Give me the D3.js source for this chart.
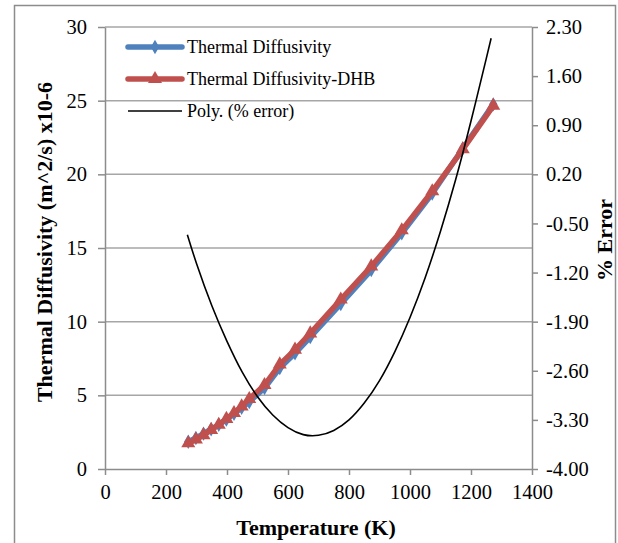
<!DOCTYPE html>
<html>
<head>
<meta charset="utf-8">
<script src="https://cdn.jsdelivr.net/npm/d3@7"></script>
<style>
  body { margin: 0; background: #fff; }
  svg { display: block; font-family: "Liberation Serif", "Times New Roman", serif; }
</style>
</head>
<body>
<div id="chart"></div>
<script>
// Temperatures (K) for both diffusivity series
const temps = [273, 298, 323, 348, 373, 398, 423, 448, 473, 523, 573, 623, 673, 773, 873, 973, 1073, 1173, 1273];
// Thermal diffusivity (m^2/s x10-6), measured
const diffusivity = [1.85, 2.1, 2.4, 2.7, 3.0, 3.35, 3.75, 4.15, 4.55, 5.5, 6.85, 7.85, 8.95, 11.2, 13.5, 16.0, 18.7, 21.75, 24.75];
// Thermal diffusivity, DHB model
const diffusivityDHB = [1.75, 2.0, 2.3, 2.65, 3.0, 3.4, 3.8, 4.25, 4.75, 5.7, 7.1, 8.1, 9.2, 11.5, 13.75, 16.2, 18.85, 21.7, 24.65];
// Polynomial trendline of % error
const polyT = [270, 300, 350, 400, 450, 500, 550, 600, 650, 700, 750, 800, 850, 900, 950, 1000, 1050, 1100, 1150, 1200, 1250, 1266];
const polyErr = [-0.66, -1.07, -1.67, -2.18, -2.62, -2.97, -3.23, -3.41, -3.51, -3.52, -3.45, -3.30, -3.06, -2.74, -2.33, -1.84, -1.27, -0.61, 0.13, 0.96, 1.85, 2.14];

const xTicks = [0, 200, 400, 600, 800, 1000, 1200, 1400];
const yLeftTicks = [0, 5, 10, 15, 20, 25, 30];
const yRightTicks = [-4.0, -3.3, -2.6, -1.9, -1.2, -0.5, 0.2, 0.9, 1.6, 2.3];

drawChart();

function drawChart() {
    const width = 618, height = 543;
    const plotLeft = 105, plotRight = 532, plotTop = 27, plotBottom = 469;

    const svg = d3.select('#chart').append('svg')
        .attr('width', width)
        .attr('height', height);

    // outer chart border
    svg.append('rect')
        .attr('x', 14.5).attr('y', 5.5)
        .attr('width', 601).attr('height', 560)
        .attr('fill', 'none')
        .attr('stroke', '#8c8c8c')
        .attr('stroke-width', 1.5);

    const x = d3.scaleLinear().domain([0, 1400]).range([plotLeft, plotRight]);
    const yL = d3.scaleLinear().domain([0, 30]).range([plotBottom, plotTop]);
    const yR = d3.scaleLinear().domain([-4, 2.3]).range([plotBottom, plotTop]);

    const axisColor = '#8c8c8c';
    // Excel style: plain hyphen for negatives
    const fmt2 = d => d3.format('.2f')(d).replace('\u2212', '-');

    // gridlines
    svg.append('g')
        .selectAll('line')
        .data(yLeftTicks.filter(d => d > 0))
        .join('line')
        .attr('x1', plotLeft).attr('x2', plotRight)
        .attr('y1', d => yL(d)).attr('y2', d => yL(d))
        .attr('stroke', '#a6a6a6')
        .attr('stroke-width', 1.5);

    function styleAxis(g) {
        g.select('.domain').attr('stroke', axisColor).attr('stroke-width', 1.5);
        g.selectAll('.tick line').attr('stroke', axisColor).attr('stroke-width', 1.5);
        g.selectAll('.tick text')
            .attr('fill', '#000')
            .style('font-size', '20.5px')
            .style('font-family', '"Liberation Serif", serif');
    }

    svg.append('g')
        .attr('transform', `translate(0,${plotBottom})`)
        .call(d3.axisBottom(x).tickValues(xTicks).tickSize(6).tickSizeOuter(0).tickPadding(9).tickFormat(d3.format('d')))
        .call(styleAxis);

    svg.append('g')
        .attr('transform', `translate(${plotLeft},0)`)
        .call(d3.axisLeft(yL).tickValues(yLeftTicks).tickSize(7).tickSizeOuter(0).tickPadding(11).tickFormat(d3.format('d')))
        .call(styleAxis);

    svg.append('g')
        .attr('transform', `translate(${plotRight},0)`)
        .call(d3.axisRight(yR).tickValues(yRightTicks).tickSize(6).tickSizeOuter(0).tickPadding(8).tickFormat(fmt2))
        .call(styleAxis);

    // axis titles
    svg.append('text')
        .attr('x', 316)
        .attr('y', 535)
        .attr('text-anchor', 'middle')
        .style('font-size', '22px')
        .style('font-weight', 'bold')
        .text('Temperature (K)');

    svg.append('text')
        .attr('transform', 'translate(52,242) rotate(-90)')
        .attr('text-anchor', 'middle')
        .style('font-size', '22px')
        .style('font-weight', 'bold')
        .text('Thermal Diffusivity (m^2/s) x10-6');

    svg.append('text')
        .attr('transform', 'translate(612,240) rotate(-90)')
        .attr('text-anchor', 'middle')
        .style('font-size', '22px')
        .style('font-weight', 'bold')
        .text('% Error');

    const blue = '#4f81bd', red = '#c0504d';

    const series = [
        { name: 'Thermal Diffusivity', values: diffusivity, color: blue, symbol: d3.symbolDiamond, size: 60 },
        { name: 'Thermal Diffusivity-DHB', values: diffusivityDHB, color: red, symbol: d3.symbolTriangle, size: 85 }
    ];

    const line = d3.line().x(d => x(d[0])).y(d => yL(d[1]));

    series.forEach(s => {
        const pts = temps.map((t, i) => [t, s.values[i]]);
        svg.append('path')
            .datum(pts)
            .attr('d', line)
            .attr('fill', 'none')
            .attr('stroke', s.color)
            .attr('stroke-width', 5.5)
            .attr('stroke-linejoin', 'round')
            .attr('stroke-linecap', 'round');
        svg.append('g')
            .selectAll('path')
            .data(pts)
            .join('path')
            .attr('transform', d => `translate(${x(d[0])},${yL(d[1])})`)
            .attr('d', d3.symbol().type(s.symbol).size(s.size))
            .attr('fill', s.color);
    });

    // polynomial trendline on the secondary axis
    const polyPts = polyT.map((t, i) => [t, polyErr[i]]);
    svg.append('path')
        .datum(polyPts)
        .attr('d', d3.line().x(d => x(d[0])).y(d => yR(d[1])).curve(d3.curveNatural))
        .attr('fill', 'none')
        .attr('stroke', '#000')
        .attr('stroke-width', 1.6);

    // legend
    const legendItems = [
        { label: 'Thermal Diffusivity', color: blue, symbol: d3.symbolDiamond, size: 60, w: 5.5, y: 47 },
        { label: 'Thermal Diffusivity-DHB', color: red, symbol: d3.symbolTriangle, size: 85, w: 5.5, y: 79 },
        { label: 'Poly. (% error)', color: '#000', symbol: null, w: 1.6, y: 111 }
    ];

    const legend = svg.append('g');
    legendItems.forEach(d => {
        legend.append('line')
            .attr('x1', 128).attr('x2', 182)
            .attr('y1', d.y).attr('y2', d.y)
            .attr('stroke', d.color)
            .attr('stroke-width', d.w)
            .attr('stroke-linecap', d.symbol ? 'round' : 'butt');
        if (d.symbol) {
            legend.append('path')
                .attr('transform', `translate(155,${d.y})`)
                .attr('d', d3.symbol().type(d.symbol).size(d.size))
                .attr('fill', d.color);
        }
        legend.append('text')
            .attr('x', 187)
            .attr('y', d.y)
            .attr('dy', '0.33em')
            .style('font-size', '18px')
            .text(d.label);
    });
}
</script>
</body>
</html>
